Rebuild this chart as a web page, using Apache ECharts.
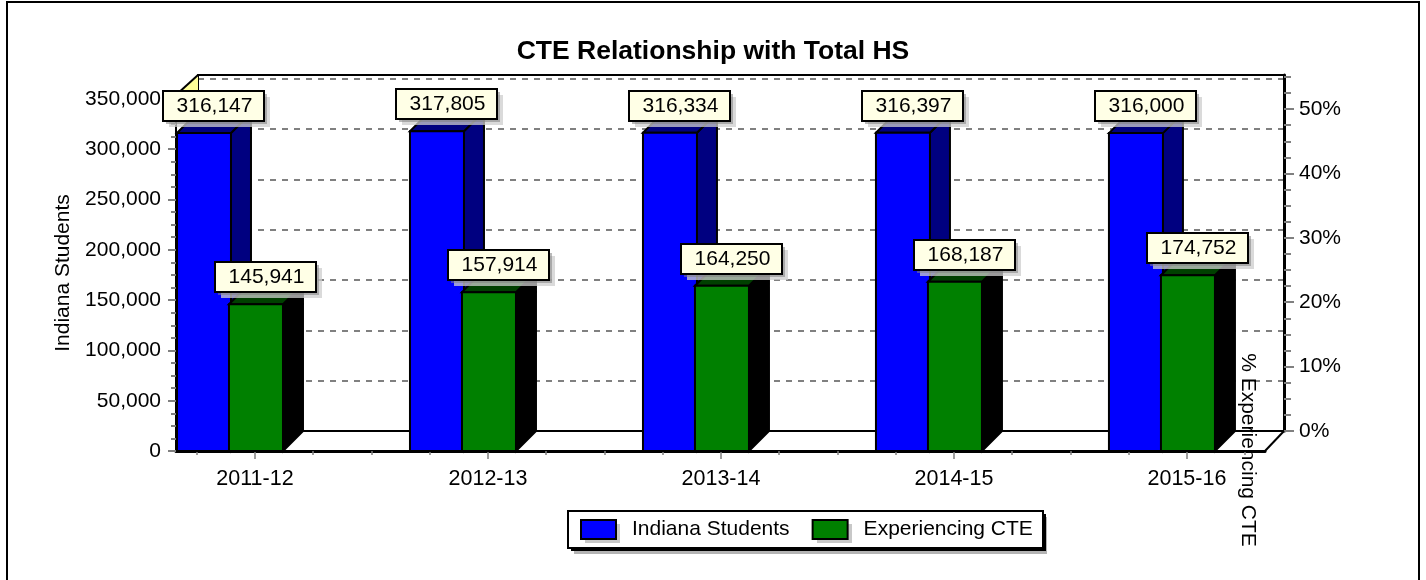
<!DOCTYPE html>
<html>
<head>
<meta charset="utf-8">
<style>html,body{margin:0;padding:0;background:#fff}#chart{width:1426px;height:580px}</style>
<script src="https://cdn.jsdelivr.net/npm/echarts@6/dist/echarts.min.js"></script>
</head>
<body>
<div id="chart"></div>
<script>
var categories = ['2011-12', '2012-13', '2013-14', '2014-15', '2015-16'];
var indianaStudents = [316147, 317805, 316334, 316397, 316000];
var experiencingCte = [145941, 157914, 164250, 168187, 174752];

var studentTicks = [0, 50000, 100000, 150000, 200000, 250000, 300000, 350000];
var studentMinorTicks = [12500, 25000, 37500, 62500, 75000, 87500, 112500, 125000, 137500, 162500, 175000, 187500,
    212500, 225000, 237500, 262500, 275000, 287500, 312500, 325000, 337500];
var percentTicks = [0, 10, 20, 30, 40, 50];
var percentMinorTicks = [2.5, 5, 7.5, 12.5, 15, 17.5, 22.5, 25, 27.5, 32.5, 35, 37.5, 42.5, 45, 47.5, 52.5, 55];
var categoryTicks = [0, 1, 2, 3, 4];
var categoryMinorTicks = [-0.25, 0.25, 0.5, 0.75, 1.25, 1.5, 1.75, 2.25, 2.5, 2.75, 3.25, 3.5, 3.75, 4.25];

var studentMax = 353900;
var percentMax = 55.3;
var font = '"Liberation Sans", Arial, sans-serif';

var barW = 54, depthX = 20, depthY = 20;

// one fake-3d column plus its callout box
function column(offset, front, side, top) {
    return function (params, api) {
        var p = api.coord([api.value(0), api.value(1)]);
        var base = api.coord([api.value(0), 0]);
        var x = p[0] + offset, y = p[1];
        var line = {stroke: '#000', lineWidth: 2};
        var boxW = 101, boxH = 30;
        var boxX = Math.round(x + (barW + depthX) / 2 - boxW / 2);
        var boxY = Math.round(y - 12 - boxH);
        return {
            type: 'group',
            children: [
                {type: 'polygon', shape: {points: [[x + barW, y], [x + barW + depthX, y - depthY], [x + barW + depthX, base[1] - depthY], [x + barW, base[1]]]},
                    style: Object.assign({fill: side}, line)},
                {type: 'polygon', shape: {points: [[x, y], [x + depthX, y - depthY], [x + barW + depthX, y - depthY], [x + barW, y]]},
                    style: Object.assign({fill: top}, line)},
                {type: 'rect', shape: {x: x, y: y, width: barW, height: base[1] - y},
                    style: Object.assign({fill: front}, line)},
                {type: 'rect', shape: {x: boxX + 6, y: boxY + 6, width: boxW, height: boxH},
                    style: {fill: 'rgba(205,205,205,0.75)'}},
                {type: 'rect', shape: {x: boxX + 3, y: boxY + 3, width: boxW, height: boxH},
                    style: {fill: 'rgba(130,130,130,0.55)'}},
                {type: 'rect', shape: {x: boxX, y: boxY, width: boxW, height: boxH},
                    style: {fill: '#ffffe6', stroke: '#000', lineWidth: 2}},
                {type: 'text', x: boxX + boxW / 2 + 1, y: boxY + boxH / 2,
                    style: {text: api.value(1).toLocaleString('en-US'), fill: '#000', font: '21px ' + font, textAlign: 'center', textVerticalAlign: 'middle'}}
            ]
        };
    };
}

function toSeriesData(values) {
    return values.map(function (v, i) { return [i, v]; });
}

var greyTick = {lineStyle: {color: '#808080', width: 2}};
var noLine = {show: false, onZero: false};

var chart = echarts.init(document.getElementById('chart'));
chart.setOption({
    animation: false,
    backgroundColor: '#fff',
    title: {
        text: 'CTE Relationship with Total HS',
        left: 708, top: 33, textAlign: 'center',
        textStyle: {fontFamily: font, fontSize: 26.5, fontWeight: 'bold', color: '#000'}
    },
    legend: {
        left: 568, top: 511, icon: 'rect', z: 7,
        itemWidth: 35, itemHeight: 19, itemGap: 22, padding: [8, 10, 8, 12],
        itemStyle: {borderColor: '#000', borderWidth: 2},
        textStyle: {fontFamily: font, fontSize: 21, color: '#000', padding: [0, 0, 0, 11]},
        data: ['Indiana Students', 'Experiencing CTE']
    },
    grid: [
        {left: 176, width: 1089, top: 95, height: 356},
        {left: 198, width: 1086, top: 75, height: 356}
    ],
    xAxis: [
        {type: 'value', gridIndex: 0, position: 'bottom', min: -0.339, max: 4.335, splitLine: {show: false},
            axisLine: {show: true, onZero: false, lineStyle: {color: '#000', width: 3}},
            axisTick: {show: true, length: 8, customValues: categoryTicks, lineStyle: {color: '#808080', width: 1.5}},
            axisLabel: {margin: 17, customValues: categoryTicks, color: '#000', fontFamily: font, fontSize: 21.5,
                formatter: function (v) { return categories[v]; }}},
        {type: 'value', gridIndex: 0, position: 'bottom', min: -0.339, max: 4.335, splitLine: {show: false},
            axisLine: noLine,
            axisTick: {show: true, length: 4, customValues: categoryMinorTicks, lineStyle: {color: '#808080', width: 1.5}},
            axisLabel: {show: false}},
        {type: 'value', gridIndex: 1, position: 'bottom', min: 0, max: 1, splitLine: {show: false},
            axisLine: {show: true, onZero: false, lineStyle: {color: '#000', width: 2}}, axisTick: {show: false}, axisLabel: {show: false}},
        {type: 'value', gridIndex: 1, position: 'top', min: 0, max: 1, splitLine: {show: false},
            axisLine: {show: true, onZero: false, lineStyle: {color: '#000', width: 2}}, axisTick: {show: false}, axisLabel: {show: false}}
    ],
    yAxis: [
        {type: 'value', gridIndex: 0, position: 'left', min: 0, max: studentMax, splitLine: {show: false},
            name: 'Indiana Students', nameLocation: 'middle', nameGap: 100, nameRotate: 90,
            nameTextStyle: {fontFamily: font, fontSize: 21, color: '#000'},
            axisLine: {show: true, onZero: false, lineStyle: {color: '#000', width: 2}},
            axisTick: {show: true, length: 8, customValues: studentTicks, lineStyle: greyTick.lineStyle},
            axisLabel: {margin: 15, customValues: studentTicks, color: '#000', fontFamily: font, fontSize: 21,
                formatter: function (v) { return v.toLocaleString('en-US'); }}},
        {type: 'value', gridIndex: 0, position: 'left', min: 0, max: studentMax, splitLine: {show: false},
            axisLine: noLine,
            axisTick: {show: true, length: 5, customValues: studentMinorTicks, lineStyle: greyTick.lineStyle},
            axisLabel: {show: false}},
        {type: 'value', gridIndex: 1, position: 'left', min: 0, max: studentMax, interval: 50000,
            axisLine: {show: true, onZero: false, lineStyle: {color: '#000', width: 2}},
            axisTick: {show: false}, axisLabel: {show: false},
            splitLine: {show: true, showMinLine: false, showMaxLine: false, lineStyle: {color: '#808080', width: 2, type: [6, 6]}}},
        {type: 'value', gridIndex: 1, position: 'right', min: 0, max: percentMax, splitLine: {show: false},
            axisLine: {show: true, onZero: false, lineStyle: {color: '#000', width: 3}},
            axisTick: {show: true, length: 10, customValues: percentTicks, lineStyle: greyTick.lineStyle},
            axisLabel: {margin: 15, customValues: percentTicks, color: '#000', fontFamily: font, fontSize: 21,
                formatter: function (v) { return v + '%'; }}},
        {type: 'value', gridIndex: 1, position: 'right', min: 0, max: percentMax, splitLine: {show: false},
            axisLine: noLine,
            axisTick: {show: true, length: 7, customValues: percentMinorTicks, lineStyle: greyTick.lineStyle},
            axisLabel: {show: false}}
    ],
    graphic: [
        // picture frame, no bottom edge
        {type: 'line', z: 5, shape: {x1: 7, y1: 2, x2: 1419, y2: 2}, style: {stroke: '#000', lineWidth: 2}},
        {type: 'line', z: 5, shape: {x1: 7, y1: 1, x2: 7, y2: 580}, style: {stroke: '#000', lineWidth: 2}},
        {type: 'line', z: 5, shape: {x1: 1419, y1: 1, x2: 1419, y2: 580}, style: {stroke: '#000', lineWidth: 2}},
        // wall and floor corners
        {type: 'polygon', z: 1, shape: {points: [[176, 95], [198, 75], [198, 95]]}, style: {fill: '#ffff99'}},
        {type: 'line', z: 1, shape: {x1: 176, y1: 95, x2: 198, y2: 75}, style: {stroke: '#000', lineWidth: 2}},
        {type: 'line', z: 1, shape: {x1: 1265, y1: 451, x2: 1284, y2: 431}, style: {stroke: '#000', lineWidth: 2}},
        // legend box and shadows sit under the transparent legend
        {type: 'rect', z: 3, shape: {x: 574, y: 517, width: 473, height: 37}, style: {fill: '#b4b4b4'}},
        {type: 'rect', z: 4, shape: {x: 571, y: 514, width: 475, height: 37}, style: {fill: '#000'}},
        {type: 'rect', z: 5, shape: {x: 568, y: 511, width: 475, height: 37}, style: {fill: '#fff', stroke: '#000', lineWidth: 2}},
        {type: 'rect', z: 6, shape: {x: 585, y: 524, width: 35, height: 19}, style: {fill: '#c8c8c8'}},
        {type: 'rect', z: 6, shape: {x: 817, y: 524, width: 35, height: 19}, style: {fill: '#c8c8c8'}},
        {type: 'text', z: 10, x: 1248, y: 450, rotation: -Math.PI / 2,
            style: {text: '% Experiencing CTE', fill: '#000', font: '21px ' + font, textAlign: 'center', textVerticalAlign: 'middle'}}
    ],
    series: [
        {name: 'Indiana Students', type: 'custom', xAxisIndex: 0, yAxisIndex: 0, z: 2,
            itemStyle: {color: '#0000ff'}, encode: {x: 0, y: 1},
            renderItem: column(-78, '#0000ff', '#000080', '#000080'),
            data: toSeriesData(indianaStudents)},
        {name: 'Experiencing CTE', type: 'custom', xAxisIndex: 0, yAxisIndex: 0, z: 2,
            itemStyle: {color: '#008000'}, encode: {x: 0, y: 1},
            renderItem: column(-26, '#008000', '#000000', '#004000'),
            data: toSeriesData(experiencingCte)}
    ]
});
</script>
</body>
</html>
